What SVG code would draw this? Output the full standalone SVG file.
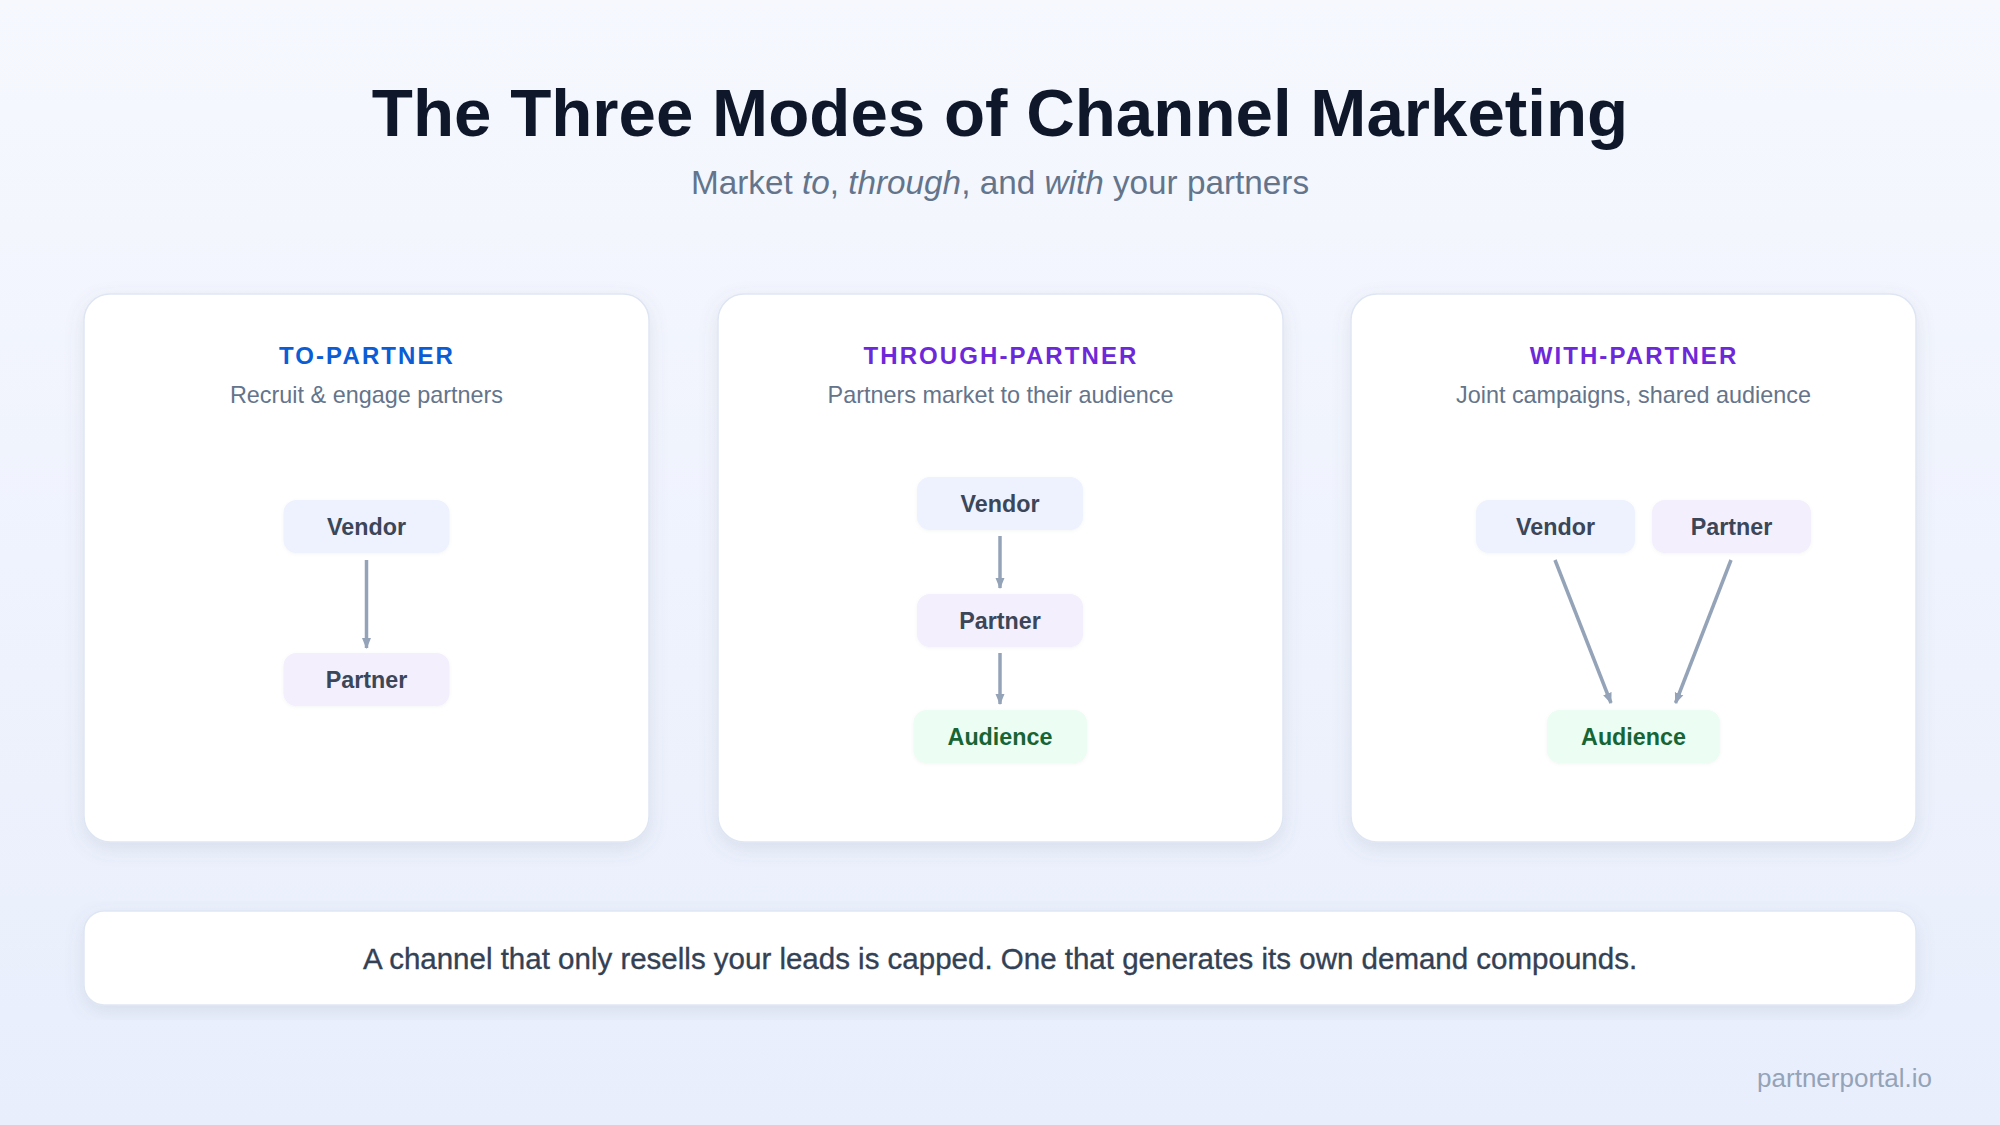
<svg xmlns="http://www.w3.org/2000/svg" width="2000" height="1125" viewBox="0 0 2000 1125">
  <defs>
    <linearGradient id="bg" x1="0" y1="0" x2="0" y2="1">
      <stop offset="0" stop-color="#f6f8fe"/>
      <stop offset="1" stop-color="#e8eefc"/>
    </linearGradient>
    <filter id="shadow" x="-10%" y="-10%" width="120%" height="125%">
      <feDropShadow dx="0" dy="6" stdDeviation="9" flood-color="#64748b" flood-opacity="0.14"/>
    </filter>
    <filter id="nshadow" x="-10%" y="-20%" width="120%" height="150%">
      <feDropShadow dx="0" dy="1" stdDeviation="1.5" flood-color="#64748b" flood-opacity="0.08"/>
    </filter>
    <marker id="ah" markerUnits="userSpaceOnUse" markerWidth="11" markerHeight="10" viewBox="0 0 11 10" refX="10" refY="5" orient="auto">
      <path d="M0,0.5 L11,5 L0,9.5 Z" fill="#94a3b8"/>
    </marker>
  </defs>
  <style>
    .title { font-family: "Liberation Sans", Arial, sans-serif; font-weight: 700; font-size: 67.3px; fill: #0f172a; }
    .sub { font-family: "Liberation Sans", Arial, sans-serif; font-size: 33.3px; fill: #64748b; }
    .card { fill: #ffffff; stroke: #dfe6f3; stroke-width: 1.5; filter: url(#shadow); }
    .head { font-family: "Liberation Sans", Arial, sans-serif; font-weight: 700; font-size: 24px; letter-spacing: 2.1px; }
    .desc { font-family: "Liberation Sans", Arial, sans-serif; font-size: 23.4px; fill: #64748b; }
    .nlabel { font-family: "Liberation Sans", Arial, sans-serif; font-weight: 700; font-size: 23.3px; fill: #3b4658; }
    .vendor { fill: #edf2fe; filter: url(#nshadow); }
    .partner { fill: #f3effd; filter: url(#nshadow); }
    .aud { fill: #ecfdf3; filter: url(#nshadow); }
    .audtext { fill: #166534; }
    .conn { stroke: #94a3b8; stroke-width: 3.5; fill: none; marker-end: url(#ah); }
    .banner { fill: #ffffff; stroke: #dfe6f3; stroke-width: 1.5; filter: url(#shadow); }
    .bannertext { font-family: "Liberation Sans", Arial, sans-serif; font-size: 29.5px; fill: #334155; stroke: #334155; stroke-width: 0.35px; }
    .foot { font-family: "Liberation Sans", Arial, sans-serif; font-size: 26px; fill: #94a3b8; }
  </style>

  <rect x="0" y="0" width="2000" height="1125" fill="url(#bg)"/>

  <g id="header">
    <text class="title" x="1000" y="136" text-anchor="middle">The Three Modes of Channel Marketing</text>
    <text class="sub" x="1000" y="194" text-anchor="middle">Market <tspan font-style="italic">to</tspan>, <tspan font-style="italic">through</tspan>, and <tspan font-style="italic">with</tspan> your partners</text>
  </g>

  <!-- Cards -->
  <g id="card-to">
    <rect class="card" x="84" y="294" width="565" height="548" rx="26"/>
    <text class="head" x="367" y="364" text-anchor="middle" fill="#0b5cd5">TO-PARTNER</text>
    <text class="desc" x="366.5" y="403" text-anchor="middle">Recruit &amp; engage partners</text>
  </g>
  <g id="card-through">
    <rect class="card" x="718" y="294" width="565" height="548" rx="26"/>
    <text class="head" x="1001" y="364" text-anchor="middle" fill="#6d28d9">THROUGH-PARTNER</text>
    <text class="desc" x="1000.5" y="403" text-anchor="middle">Partners market to their audience</text>
  </g>
  <g id="card-with">
    <rect class="card" x="1351" y="294" width="565" height="548" rx="26"/>
    <text class="head" x="1634" y="364" text-anchor="middle" fill="#6d28d9">WITH-PARTNER</text>
    <text class="desc" x="1633.5" y="403" text-anchor="middle">Joint campaigns, shared audience</text>
  </g>

  <!-- Connectors -->
  <g id="connectors">
    <line class="conn" x1="366.5" y1="560" x2="366.5" y2="648"/>
    <line class="conn" x1="1000" y1="536" x2="1000" y2="588"/>
    <line class="conn" x1="1000" y1="653" x2="1000" y2="704"/>
    <line class="conn" x1="1555" y1="560" x2="1611" y2="703"/>
    <line class="conn" x1="1731" y1="560" x2="1675.5" y2="703"/>
  </g>

  <!-- Nodes card 1 -->
  <g id="to-vendor">
    <rect class="vendor" x="283.5" y="500" width="166" height="53" rx="13"/>
    <text class="nlabel" x="366.5" y="534.5" text-anchor="middle">Vendor</text>
  </g>
  <g id="to-partner">
    <rect class="partner" x="283.5" y="653" width="166" height="53" rx="13"/>
    <text class="nlabel" x="366.5" y="687.5" text-anchor="middle">Partner</text>
  </g>

  <!-- Nodes card 2 -->
  <g id="through-vendor">
    <rect class="vendor" x="917" y="477" width="166" height="53" rx="13"/>
    <text class="nlabel" x="1000" y="511.5" text-anchor="middle">Vendor</text>
  </g>
  <g id="through-partner">
    <rect class="partner" x="917" y="594" width="166" height="53" rx="13"/>
    <text class="nlabel" x="1000" y="628.5" text-anchor="middle">Partner</text>
  </g>
  <g id="through-audience">
    <rect class="aud" x="913.5" y="710" width="173.5" height="53" rx="13"/>
    <text class="nlabel audtext" x="1000" y="744.5" text-anchor="middle">Audience</text>
  </g>

  <!-- Nodes card 3 -->
  <g id="with-vendor">
    <rect class="vendor" x="1476" y="500" width="159" height="53" rx="13"/>
    <text class="nlabel" x="1555.5" y="534.5" text-anchor="middle">Vendor</text>
  </g>
  <g id="with-partner">
    <rect class="partner" x="1652" y="500" width="159" height="53" rx="13"/>
    <text class="nlabel" x="1731.5" y="534.5" text-anchor="middle">Partner</text>
  </g>
  <g id="with-audience">
    <rect class="aud" x="1547" y="710" width="173" height="53" rx="13"/>
    <text class="nlabel audtext" x="1633.5" y="744.5" text-anchor="middle">Audience</text>
  </g>

  <g id="banner">
    <rect class="banner" x="84" y="911" width="1832" height="94" rx="20"/>
    <text class="bannertext" x="1000" y="969" text-anchor="middle">A channel that only resells your leads is capped. One that generates its own demand compounds.</text>
  </g>

  <g id="footer">
    <text class="foot" x="1932" y="1087" text-anchor="end">partnerportal.io</text>
  </g>
</svg>
